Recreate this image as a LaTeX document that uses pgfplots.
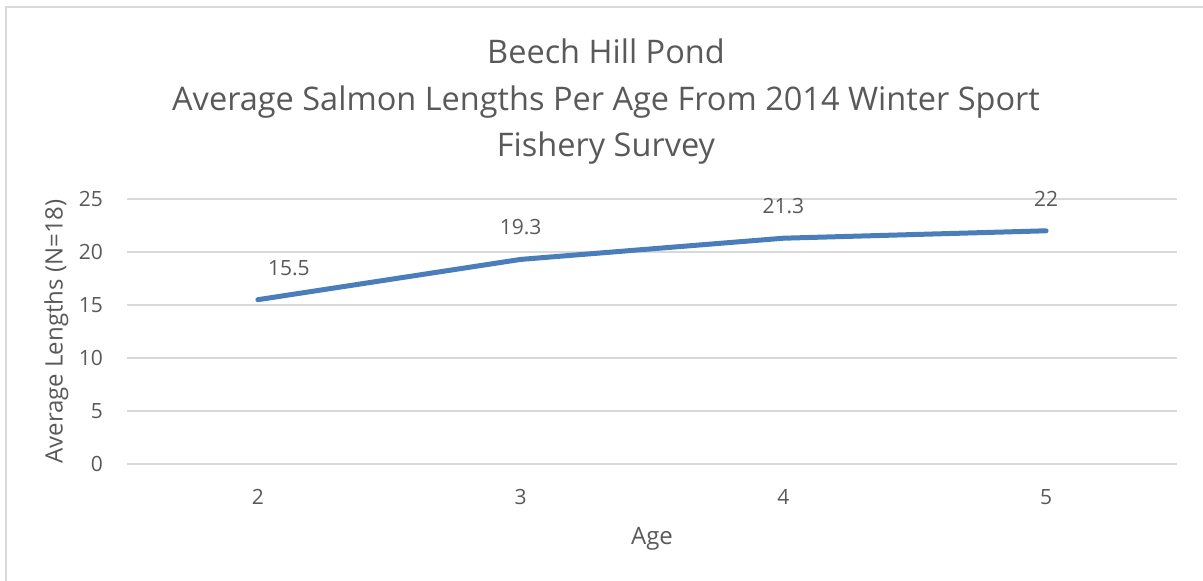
\documentclass[border=0pt]{standalone}
\usepackage{pgfplots}
\pgfplotsset{compat=1.18}
\usepackage{fontspec}
\setmainfont{Open Sans}
\definecolor{txt}{HTML}{595959}
\definecolor{gridc}{HTML}{D9D9D9}
\definecolor{linec}{HTML}{4A7EBB}
\begin{document}
\begin{tikzpicture}
\path[use as bounding box] (0pt,0pt) rectangle (1203pt,581pt);
\draw[gridc, line width=1.5pt] (6pt,0pt) -- (6pt,574pt) -- (1203pt,574pt);
\node[txt, align=center, font=\fontsize{32.5}{46.5}\selectfont] at (606pt,479pt) {Beech Hill Pond\\Average Salmon Lengths Per Age From 2014 Winter Sport\\Fishery Survey};
\begin{axis}[
  at={(126.5pt,117pt)}, anchor=south west,
  scale only axis, width=1051pt, height=265pt,
  xmin=1.5, xmax=5.5, ymin=0, ymax=25,
  xtick={2,3,4,5}, ytick={0,5,...,25},
  ymajorgrids, grid style={gridc, line width=1.3pt},
  axis line style={draw=none},
  major tick length=0pt,
  tick label style={txt, font=\fontsize{21}{24}\selectfont},
  /pgf/number format/assume math mode=true,
  xticklabel style={anchor=center, yshift=-33pt},
  yticklabel style={anchor=east, xshift=-20pt},
  xlabel={Age}, ylabel={Average Lengths (N=18)},
  label style={txt, font=\fontsize{24}{28}\selectfont},
  xlabel style={at={(axis description cs:0.5,0)}, anchor=center, yshift=-75pt},
  ylabel style={at={(axis description cs:-0.0666,0.5)}, anchor=center},
  clip=false,
]
\addplot[linec, line width=5pt, line cap=round, line join=round,
  nodes near coords, point meta=explicit symbolic,
  visualization depends on={\thisrow{dx} \as \dx},
  every node near coord/.append style={txt, font=\fontsize{21}{24}\selectfont, anchor=center, yshift=32pt, xshift=\dx pt}]
  table[x=x, y=y, meta=y] {
  x y dx
  2 15.5 31
  3 19.3 0
  4 21.3 0
  5 22 0
  };
\end{axis}
\end{tikzpicture}
\end{document}
